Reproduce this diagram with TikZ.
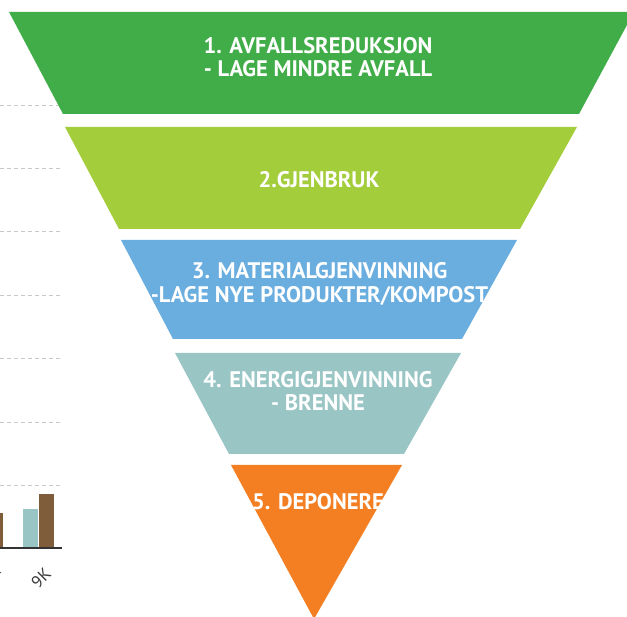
\documentclass[tikz,border=0pt]{standalone}
\usepackage{fontspec}
\setmainfont{PT Sans}
\definecolor{lvlA}{HTML}{41AD49}
\definecolor{lvlB}{HTML}{A4CD3C}
\definecolor{lvlC}{HTML}{6AADDF}
\definecolor{lvlD}{HTML}{9AC5C5}
\definecolor{lvlE}{HTML}{F47E22}
\definecolor{barbrown}{HTML}{7F5D3B}
\definecolor{gridgray}{HTML}{C8C8C8}
\definecolor{axisgray}{HTML}{333333}
\definecolor{labelgray}{HTML}{3A3A3A}
\begin{document}
\begin{tikzpicture}[x=1pt,y=-1pt,
  lbl/.style={text=white,font=\bfseries\fontsize{22.5}{23.5}\selectfont,align=center,inner sep=0pt},
  gridline/.style={draw=gridgray,dash pattern=on 4pt off 3pt,line width=0.9pt},
  axisline/.style={draw=axisgray,line width=1.2pt},
  ticklbl/.style={text=labelgray,font=\fontsize{17}{18}\selectfont,rotate=45,inner sep=0pt}]
\useasboundingbox (0,0) rectangle (627,617);
\clip (0,0) rectangle (627,617);
% partial chart on the left
\foreach \yy in {105,168,231,295,358,422,485}
  \draw[gridline] (0,\yy) -- (61,\yy);
\fill[barbrown] (0,513) rectangle (3,548);
\fill[lvlD] (23,509) rectangle (38,548);
\fill[barbrown] (39,494) rectangle (54,548);
\coordinate (axL) at (0,548);
\coordinate (axR) at (62,548);
\draw[axisline] (axL) -- (axR);
\node[ticklbl] (tk0) at (-6,572) {K};
\node[ticklbl] (tk1) at (41,578) {9K};
% pyramid levels
\fill[lvlA] (9,12) -- (634,12) -- (579,114) -- (63,114) -- cycle;
\fill[lvlB] (65,127) -- (577,127) -- (520,229) -- (119,229) -- cycle;
\fill[lvlC] (121,240) -- (517,240) -- (462,339) -- (173,339) -- cycle;
\fill[lvlD] (175,353) -- (461,353) -- (404,454) -- (229,454) -- cycle;
\fill[lvlE] (231,465) -- (402,465) -- (314,619) -- cycle;
% labels
\node[lbl] (t1) at (318,57) {1. AVFALLSREDUKSJON\\- LAGE MINDRE AVFALL};
\node[lbl] (t2) at (319,180) {2.GJENBRUK};
\node[lbl] (t3) at (319.5,284) {3. MATERIALGJENVINNING\\-LAGE NYE PRODUKTER/KOMPOST};
\node[lbl] (t4) at (318,391) {4. ENERGIGJENVINNING\\- BRENNE};
\node[lbl] (t5) at (318,502) {5. DEPONERE};
\end{tikzpicture}
\end{document}
